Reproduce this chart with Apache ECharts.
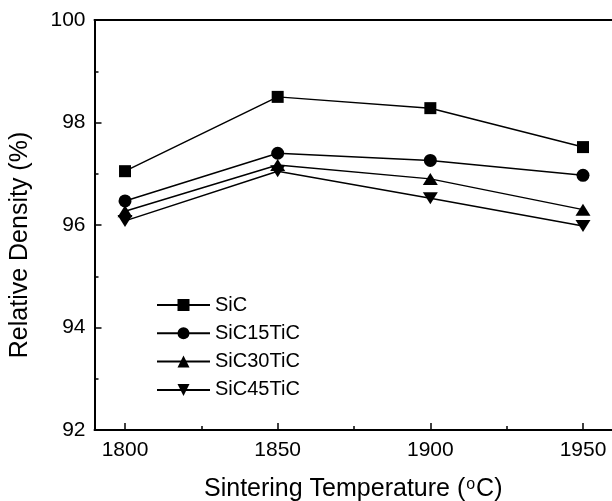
<!DOCTYPE html>
<html>
<head>
<meta charset="utf-8">
<script src="https://cdn.jsdelivr.net/npm/echarts@6/dist/echarts.min.js"></script>
<style>
  html, body { margin: 0; padding: 0; background: #fff; }
  #chart { width: 612px; height: 501px; }
</style>
</head>
<body>
<div id="chart"></div>
<script>
// sintering temperature (°C)
var temps = [1800, 1850, 1900, 1950];
var majorTicks = [1800, 1850, 1900, 1950];
var minorTicks = [1825, 1875, 1925];

// relative density (%)
var sic      = [97.05, 98.50, 98.28, 97.52];
var sic15tic = [96.47, 97.40, 97.26, 96.97];
var sic30tic = [96.27, 97.17, 96.90, 96.30];
var sic45tic = [96.08, 97.05, 96.52, 95.98];

var names = ['SiC', 'SiC15TiC', 'SiC30TiC', 'SiC45TiC'];
var values = [sic, sic15tic, sic30tic, sic45tic];

var font = 'Liberation Sans, Arial, sans-serif';

function pairs(ys) {
  return temps.map(function (t, i) { return [t, ys[i]]; });
}

var symbols = [
  { symbol: 'rect', size: 12, rotate: 0 },
  { symbol: 'circle', size: 13, rotate: 0 },
  { symbol: 'triangle', size: [15, 12], rotate: 0 },
  { symbol: 'triangle', size: [15, 12], rotate: 180 }
];

var series = names.map(function (n, i) {
  return {
    name: n,
    type: 'line',
    data: pairs(values[i]),
    symbol: symbols[i].symbol,
    symbolSize: symbols[i].size,
    symbolRotate: symbols[i].rotate,
    showAllSymbol: true,
    lineStyle: { color: '#000', width: 1.5 },
    itemStyle: { color: '#000', borderWidth: 0 },
    emphasis: { disabled: true },
    animation: false
  };
});

var chart = echarts.init(document.getElementById('chart'));
chart.setOption({
  backgroundColor: '#fff',
  animation: false,
  grid: { left: 94.5, right: 0, top: 20, bottom: 71, outerBoundsMode: 'none', containLabel: false },
  legend: {
    orient: 'vertical',
    left: 156,
    top: 295,
    padding: 0,
    itemWidth: 53,
    itemHeight: 15,
    itemGap: 8.3,
    data: names,
    textStyle: { fontFamily: font, fontSize: 20, color: '#000' }
  },
  xAxis: [
    {
      type: 'value',
      min: 1790,
      max: 1959.5,
      name: 'Sintering Temperature ({s|o}C)',
      nameLocation: 'middle',
      nameGap: 47,
      nameTextStyle: {
        fontFamily: font, fontSize: 25, color: '#000',
        rich: { s: { fontFamily: font, fontSize: 16, color: '#000', verticalAlign: 'top', padding: [0, 1, 8, 1] } }
      },
      axisLine: { lineStyle: { color: '#000', width: 2 } },
      axisTick: { inside: true, length: 7, lineStyle: { color: '#000', width: 1.5 }, customValues: majorTicks },
      axisLabel: {
        margin: 10, fontFamily: font, fontSize: 21, color: '#000', customValues: majorTicks,
        formatter: function (v) { return String(v); }
      },
      splitLine: { show: false }
    },
    {
      type: 'value',
      min: 1790,
      max: 1959.5,
      position: 'bottom',
      axisLine: { show: false },
      axisTick: { inside: true, length: 4, lineStyle: { color: '#000', width: 1.5 }, customValues: minorTicks },
      axisLabel: { show: false },
      splitLine: { show: false }
    },
    {
      type: 'value',
      min: 1790,
      max: 1959.5,
      position: 'top',
      axisLine: { show: true, lineStyle: { color: '#000', width: 2 } },
      axisTick: { show: false },
      axisLabel: { show: false },
      splitLine: { show: false }
    }
  ],
  yAxis: {
    type: 'value',
    min: 92,
    max: 100,
    interval: 2,
    name: 'Relative Density (%)',
    nameLocation: 'middle',
    nameGap: 62,
    nameTextStyle: { fontFamily: font, fontSize: 25, color: '#000', padding: [0, 40, 0, 0] },
    axisLine: { show: true, lineStyle: { color: '#000', width: 2 } },
    axisTick: { inside: true, length: 7, lineStyle: { color: '#000', width: 1.5 } },
    minorTick: { show: true, splitNumber: 2, length: 4, lineStyle: { color: '#000', width: 1.5 } },
    axisLabel: { margin: 9, fontFamily: font, fontSize: 21, color: '#000' },
    splitLine: { show: false }
  },
  series: series
});
</script>
</body>
</html>
